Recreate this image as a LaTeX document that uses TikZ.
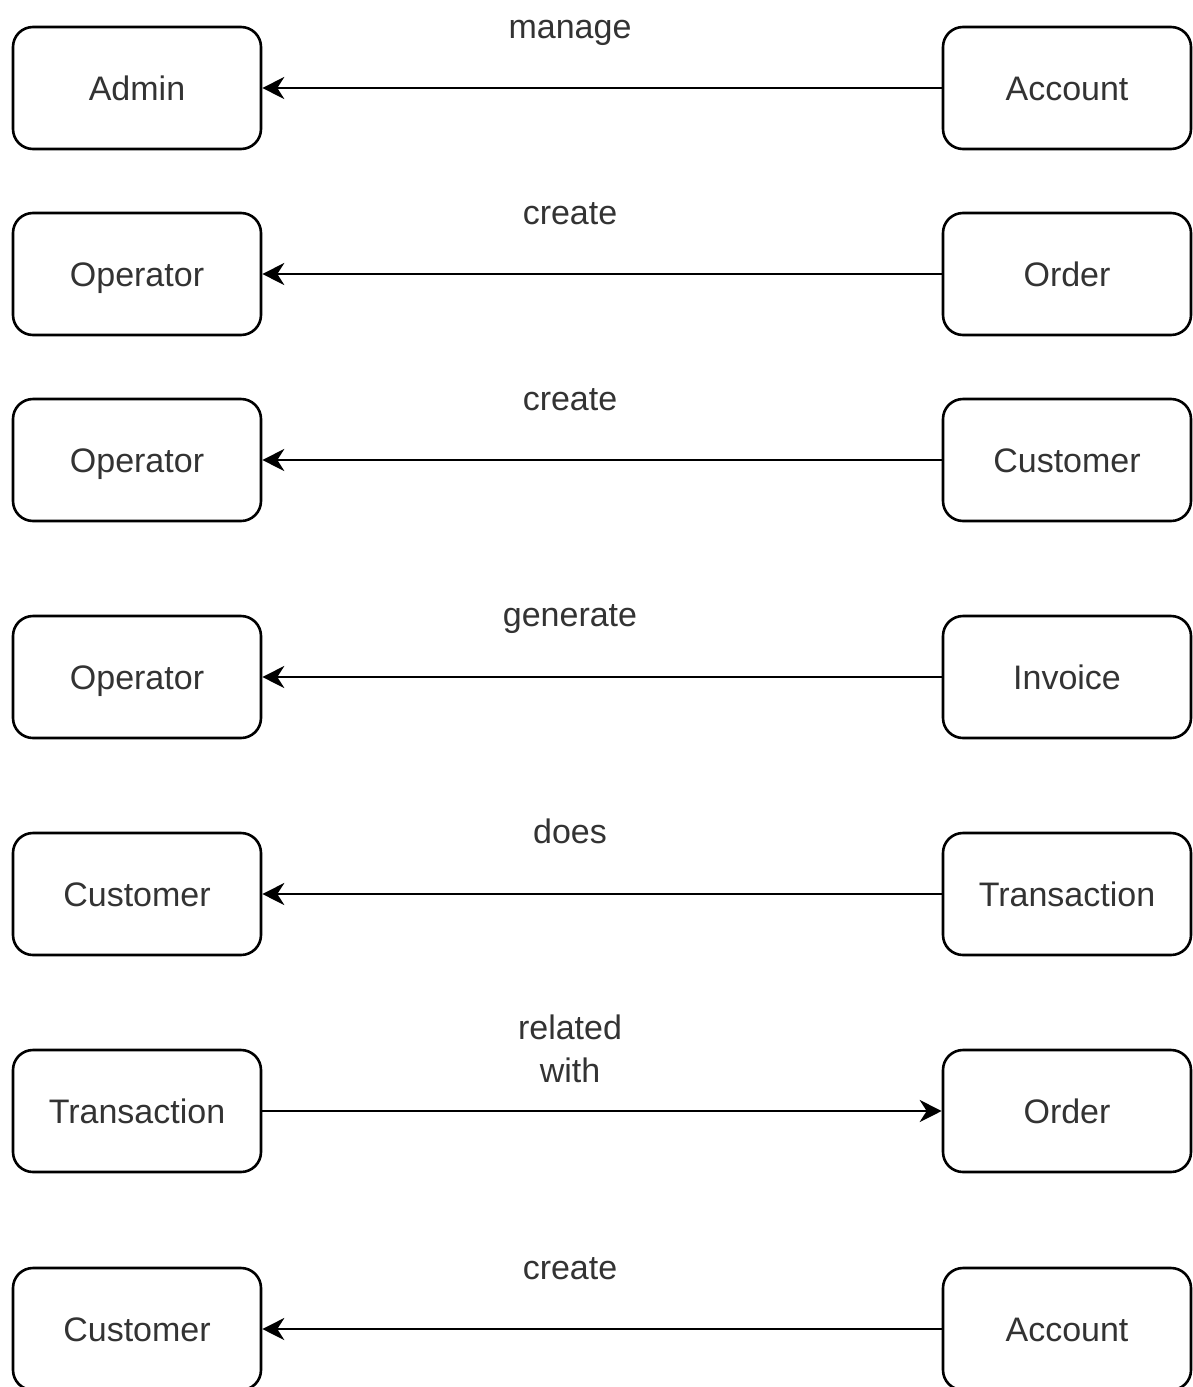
\documentclass[tikz,border=0pt]{standalone}
\usepackage{fontspec}
\setmainfont{Liberation Sans}
\usetikzlibrary{arrows.meta}
\definecolor{txt}{HTML}{333333}
\begin{document}
\begin{tikzpicture}[x=1pt,y=-1pt,
  entity/.style={draw=black, line width=2.6pt, rounded corners=20pt,
    minimum width=248pt, minimum height=122pt, inner sep=0pt,
    text height=24pt, text depth=0pt,
    font=\fontsize{34}{40}\selectfont, text=txt},
  rel/.style={line width=2.6pt, -{Stealth[length=22pt,width=22pt,inset=7pt]}},
  lbl/.style={font=\fontsize{34}{43}\selectfont, text=txt, align=center,
    anchor=base, inner sep=0pt}]
\useasboundingbox (0,0) rectangle (1192,1387);
\fill[white] (0,0) rectangle (1192,1387);

% left column entities
\node[entity] (l1) at (137,88) {Admin};
\node[entity] (l2) at (137,274) {Operator};
\node[entity] (l3) at (137,460) {Operator};
\node[entity] (l4) at (137,677) {Operator};
\node[entity] (l5) at (137,894) {Customer};
\node[entity] (l6) at (137,1111) {Transaction};
\node[entity] (l7) at (137,1329) {Customer};

% right column entities
\node[entity] (r1) at (1067,88) {Account};
\node[entity] (r2) at (1067,274) {Order};
\node[entity] (r3) at (1067,460) {Customer};
\node[entity] (r4) at (1067,677) {Invoice};
\node[entity] (r5) at (1067,894) {Transaction};
\node[entity] (r6) at (1067,1111) {Order};
\node[entity] (r7) at (1067,1329) {Account};

% relations
\draw[rel] (r1) -- (l1);
\draw[rel] (r2) -- (l2);
\draw[rel] (r3) -- (l3);
\draw[rel] (r4) -- (l4);
\draw[rel] (r5) -- (l5);
\draw[rel] (l6) -- (r6);
\draw[rel] (r7) -- (l7);

% relation labels, placed by baseline (last line for two-line labels)
\node[lbl] (t1) at (570,38) {manage};
\node[lbl] (t2) at (570,224) {create};
\node[lbl] (t3) at (570,410) {create};
\node[lbl] (t4) at (570,626) {generate};
\node[lbl] (t5) at (570,843) {does};
\node[lbl] (t6) at (570,1082) {related\\with};
\node[lbl] (t7) at (570,1279) {create};
\end{tikzpicture}
\end{document}
